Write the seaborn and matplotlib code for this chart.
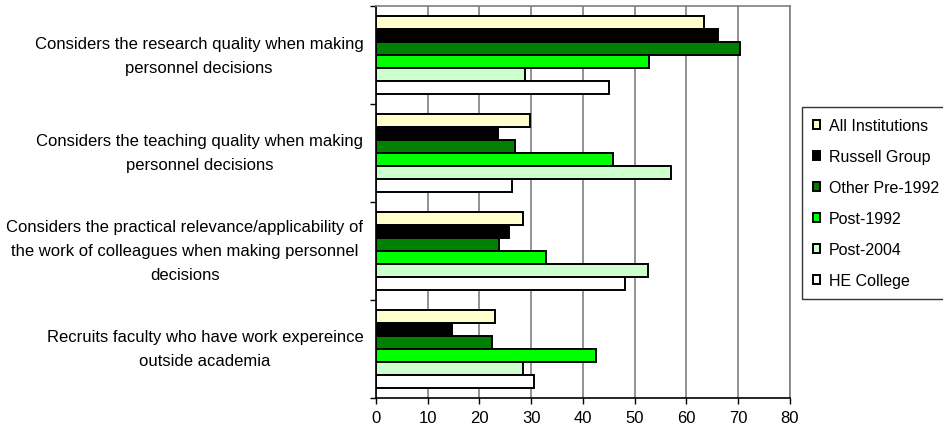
import pandas as pd
import matplotlib
matplotlib.use('Agg')
import matplotlib.pyplot as plt
import numpy as np
import seaborn as sns

statements = ['Considers the research quality when making\npersonnel decisions',
              'Considers the teaching quality when making\npersonnel decisions',
              'Considers the practical relevance/applicability of\nthe work of colleagues when making personnel\ndecisions',
              'Recruits faculty who have work expereince\noutside academia']
groups = ['All Institutions', 'Russell Group', 'Other Pre-1992', 'Post-1992', 'Post-2004', 'HE College']
colours = ['#FFFFCC', '#000000', '#008000', '#00FF00', '#CCFFCC', '#FFFFFF']

all_inst = [63.4, 29.7, 28.4, 23.0]
russell = [66.0, 23.5, 25.7, 14.7]
other_pre = [70.3, 26.8, 23.7, 22.5]
post_1992 = [52.8, 45.9, 32.8, 42.5]
post_2004 = [28.8, 57.1, 52.5, 28.4]
he_college = [45.0, 26.3, 48.1, 30.6]

#long format for seaborn
rows = []
for g, vals in zip(groups, [all_inst, russell, other_pre, post_1992, post_2004, he_college]):
    for s, v in zip(statements, vals):
        rows.append({'Statement': s, 'Group': g, 'Value': v})
df = pd.DataFrame(rows)

sns.set_style('white')
plt.rcParams['font.family'] = ['Liberation Sans', 'DejaVu Sans']
plt.rcParams['text.color'] = 'black'
plt.rcParams['xtick.color'] = 'black'
plt.rcParams['ytick.color'] = 'black'

fig = plt.figure(figsize=(9.43, 4.27), dpi=100)
ax = fig.add_axes([0.3987, 0.0656, 0.8377 - 0.3987, 0.9836 - 0.0656])

sns.barplot(data=df, y='Statement', x='Value', hue='Group', order=statements, hue_order=groups,
            palette=colours, orient='h', width=0.8, edgecolor='black', linewidth=1.4,
            saturation=1, ax=ax, zorder=3)

ax.set_xlim(0, 80)
ax.set_ylim(3.5, -0.5)
ax.set_xticks(np.arange(0, 81, 10))
ax.xaxis.grid(True, color='#808080', linewidth=1.2, zorder=0)
ax.set_axisbelow(True)
ax.set_xlabel('')
ax.set_ylabel('')

# ticks at category boundaries like Excel
ax.set_yticks(np.arange(-0.5, 4, 1), minor=True)
ax.tick_params(axis='y', which='major', length=0, pad=9, labelsize=12, labelcolor='black')
ax.tick_params(axis='y', which='minor', length=4, width=1, color='black', left=True, direction='out')
ax.tick_params(axis='x', length=4, width=1, color='black', bottom=True, direction='out',
               labelsize=12, pad=5, labelcolor='black')
for lbl in ax.get_yticklabels():
    lbl.set_multialignment('center')
    lbl.set_linespacing(1.75)
    lbl.set_verticalalignment('center')

for side in ['left', 'bottom']:
    ax.spines[side].set_color('black')
    ax.spines[side].set_linewidth(1.2)
for side in ['top', 'right']:
    ax.spines[side].set_visible(True)
    ax.spines[side].set_color('#808080')
    ax.spines[side].set_linewidth(1.2)

leg = ax.legend(loc='upper left', bbox_to_anchor=(802 / 943, 1 - 108 / 427), bbox_transform=fig.transFigure,
                frameon=True, fancybox=False, edgecolor='black', fontsize=11.5,
                handlelength=0.45, handleheight=0.45, handletextpad=0.55, labelspacing=1.0,
                borderpad=0.7, borderaxespad=0)
leg.get_frame().set_linewidth(1.0)
for t in leg.get_texts():
    t.set_color('black')

fig.savefig('out.png', dpi=100)
